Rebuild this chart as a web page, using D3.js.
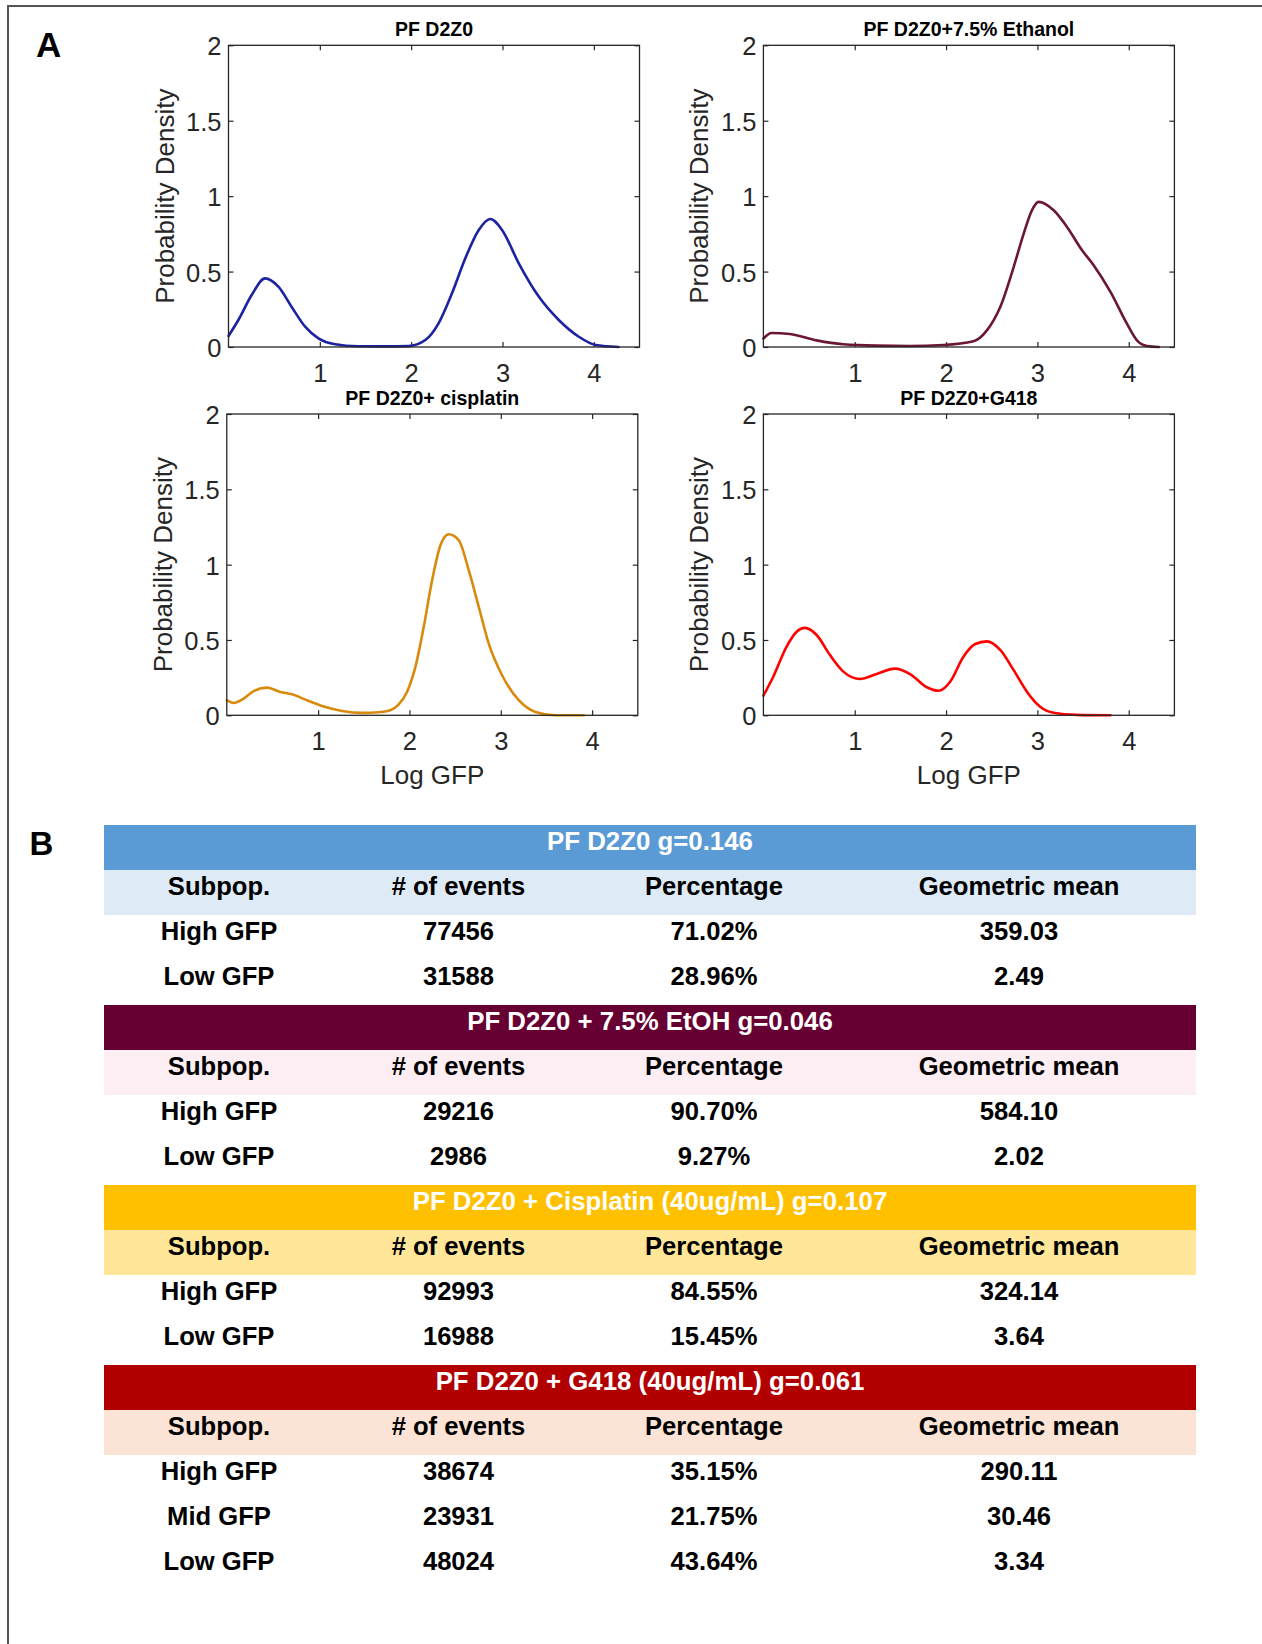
<!DOCTYPE html>
<html>
<head>
<meta charset="utf-8">
<script src="https://cdn.jsdelivr.net/npm/d3@7"></script>
<style>
  html, body { margin: 0; padding: 0; background: #fff; }
  svg { display: block; }
</style>
</head>
<body>
<script>
// ---------- Panel A: kernel density curves of log GFP ----------
const panelTitles = ["PF D2Z0", "PF D2Z0+7.5% Ethanol", "PF D2Z0+ cisplatin", "PF D2Z0+G418"];
const curveColors = ["#1c22a0", "#6b1732", "#d98a0c", "#ff0000"];
const xTickValues = [1, 2, 3, 4];
const yTickValues = [0, 0.5, 1, 1.5, 2];
const yTickLabels = ["0", "0.5", "1", "1.5", "2"];
const xAxisLabel = "Log GFP";
const yAxisLabel = "Probability Density";

const logGfpD2Z0 = [0, 0.108, 0.254, 0.40, 0.546, 0.69, 0.839, 0.985, 1.168, 1.42, 1.7, 1.97, 2.155, 2.30, 2.447, 2.593, 2.74, 2.867, 2.995, 3.178, 3.397, 3.616, 3.836, 4.02, 4.27];
const densityD2Z0 = [0.073, 0.179, 0.345, 0.455, 0.40, 0.267, 0.135, 0.057, 0.018, 0.005, 0.004, 0.006, 0.046, 0.157, 0.356, 0.588, 0.776, 0.849, 0.776, 0.555, 0.334, 0.179, 0.068, 0.013, 0.0];

const logGfpEthanol = [0, 0.09, 0.29, 0.583, 0.875, 1.24, 1.6, 1.97, 2.30, 2.447, 2.593, 2.74, 2.85, 2.94, 3.013, 3.178, 3.324, 3.489, 3.616, 3.80, 3.98, 4.09, 4.2, 4.33];
const densityEthanol = [0.056, 0.093, 0.086, 0.044, 0.018, 0.009, 0.007, 0.013, 0.038, 0.11, 0.265, 0.53, 0.752, 0.906, 0.962, 0.906, 0.796, 0.641, 0.542, 0.365, 0.155, 0.044, 0.007, 0.0];

const logGfpCisplatin = [0, 0.075, 0.166, 0.294, 0.44, 0.586, 0.714, 0.897, 1.08, 1.262, 1.48, 1.663, 1.79, 1.88, 1.973, 2.065, 2.156, 2.248, 2.339, 2.43, 2.54, 2.649, 2.759, 2.868, 3.014, 3.197, 3.379, 3.598, 3.91];
const densityCisplatin = [0.10, 0.082, 0.104, 0.161, 0.184, 0.155, 0.139, 0.095, 0.055, 0.029, 0.016, 0.02, 0.033, 0.071, 0.155, 0.321, 0.586, 0.896, 1.129, 1.202, 1.162, 0.963, 0.719, 0.476, 0.266, 0.10, 0.022, 0.0, 0.0];

const logGfpG418 = [0, 0.108, 0.254, 0.364, 0.455, 0.583, 0.729, 0.875, 1.058, 1.24, 1.442, 1.606, 1.79, 1.917, 2.045, 2.19, 2.319, 2.447, 2.593, 2.74, 2.885, 3.03, 3.178, 3.43, 3.80];
const densityG418 = [0.13, 0.256, 0.456, 0.555, 0.58, 0.533, 0.40, 0.29, 0.241, 0.274, 0.31, 0.274, 0.186, 0.163, 0.223, 0.389, 0.473, 0.491, 0.434, 0.30, 0.157, 0.057, 0.017, 0.003, 0.0];

// ---------- Panel B: subpopulation summary tables ----------
const tableTitles = [
  "PF D2Z0 g=0.146",
  "PF D2Z0 + 7.5% EtOH g=0.046",
  "PF D2Z0 + Cisplatin (40ug/mL) g=0.107",
  "PF D2Z0 + G418 (40ug/mL) g=0.061"
];
const headerLabels = ["Subpop.", "# of events", "Percentage", "Geometric mean"];
const titleFills = ["#5b9bd5", "#660033", "#ffc000", "#b20000"];
const headerFills = ["#deebf7", "#fdeef4", "#ffe699", "#fbe4d5"];

const subpopD2Z0 = ["High GFP", "Low GFP"];
const eventsD2Z0 = ["77456", "31588"];
const percentD2Z0 = ["71.02%", "28.96%"];
const geomeanD2Z0 = ["359.03", "2.49"];

const subpopEthanol = ["High GFP", "Low GFP"];
const eventsEthanol = ["29216", "2986"];
const percentEthanol = ["90.70%", "9.27%"];
const geomeanEthanol = ["584.10", "2.02"];

const subpopCisplatin = ["High GFP", "Low GFP"];
const eventsCisplatin = ["92993", "16988"];
const percentCisplatin = ["84.55%", "15.45%"];
const geomeanCisplatin = ["324.14", "3.64"];

const subpopG418 = ["High GFP", "Mid GFP", "Low GFP"];
const eventsG418 = ["38674", "23931", "48024"];
const percentG418 = ["35.15%", "21.75%", "43.64%"];
const geomeanG418 = ["290.11", "30.46", "3.34"];

// ---------- drawing ----------
const W = 1262, H = 1644;
const svg = d3.select("body").append("svg")
  .attr("width", W).attr("height", H)
  .style("font-family", "'Liberation Sans', Arial, Helvetica, sans-serif");

// figure frame
svg.append("rect")
  .attr("x", 8).attr("y", 6).attr("width", W + 20).attr("height", H + 20)
  .attr("fill", "none").attr("stroke", "#555").attr("stroke-width", 2);

// panel letters
svg.append("text").attr("x", 36).attr("y", 56.5)
  .attr("font-size", 35).attr("font-weight", "bold").text("A");
svg.append("text").attr("x", 29.5).attr("y", 855)
  .attr("font-size", 33).attr("font-weight", "bold").text("B");

const curves = [
  d3.zip(logGfpD2Z0, densityD2Z0),
  d3.zip(logGfpEthanol, densityEthanol),
  d3.zip(logGfpCisplatin, densityCisplatin),
  d3.zip(logGfpG418, densityG418)
];

const panelBoxes = [
  { x: 228.5, y: 45.3, w: 411, h: 301.7, xlabel: false },
  { x: 763.4, y: 45.3, w: 411, h: 301.7, xlabel: false },
  { x: 226.8, y: 414, w: 411, h: 301.3, xlabel: true },
  { x: 763.4, y: 414, w: 411, h: 301.3, xlabel: true }
];

const axisColor = "#262626";

panelBoxes.forEach((b, i) => {
  const g = svg.append("g").attr("transform", `translate(${b.x},${b.y})`);
  const x = d3.scaleLinear().domain([0, 4.5]).range([0, b.w]);
  const y = d3.scaleLinear().domain([0, 2]).range([b.h, 0]);

  // inward ticks on all four sides
  const bottom = g.append("g").attr("transform", `translate(0,${b.h})`)
    .call(d3.axisBottom(x).tickValues(xTickValues).tickSizeInner(-5).tickSizeOuter(0).tickPadding(16.5).tickFormat(d3.format("d")));
  const top = g.append("g")
    .call(d3.axisTop(x).tickValues(xTickValues).tickSizeInner(-5).tickSizeOuter(0).tickFormat(""));
  const left = g.append("g")
    .call(d3.axisLeft(y).tickValues(yTickValues).tickSizeInner(-5).tickSizeOuter(0).tickPadding(7)
      .tickFormat((d, k) => yTickLabels[k]));
  const right = g.append("g").attr("transform", `translate(${b.w},0)`)
    .call(d3.axisRight(y).tickValues(yTickValues).tickSizeInner(-5).tickSizeOuter(0).tickFormat(""));

  [bottom, top, left, right].forEach(a => {
    a.select(".domain").remove();
    a.selectAll("line").attr("stroke", axisColor).attr("stroke-width", 1.2);
    a.selectAll("text").attr("fill", axisColor).attr("font-size", 25.5)
      .attr("font-family", "'Liberation Sans', Arial, sans-serif");
  });
  left.selectAll("text").attr("dy", "0.37em");

  // data curve
  const line = d3.line().x(d => x(d[0])).y(d => y(d[1])).curve(d3.curveMonotoneX);
  g.append("path").datum(curves[i])
    .attr("d", line).attr("fill", "none")
    .attr("stroke", curveColors[i]).attr("stroke-width", 2.6)
    .attr("stroke-linejoin", "round").attr("stroke-linecap", "round");

  // box
  g.append("rect").attr("width", b.w).attr("height", b.h)
    .attr("fill", "none").attr("stroke", axisColor).attr("stroke-width", 1.3);

  // title
  g.append("text").attr("x", b.w / 2).attr("y", -9)
    .attr("text-anchor", "middle").attr("font-size", 19.5).attr("font-weight", "bold")
    .attr("fill", "#000").text(panelTitles[i]);

  // y label
  g.append("text").attr("transform", `translate(-55,${b.h / 2}) rotate(-90)`)
    .attr("text-anchor", "middle").attr("font-size", 26).attr("fill", axisColor)
    .text(yAxisLabel);

  if (b.xlabel) {
    g.append("text").attr("x", b.w / 2).attr("y", b.h + 69)
      .attr("text-anchor", "middle").attr("font-size", 26).attr("fill", axisColor)
      .text(xAxisLabel);
  }
});

// ---------- tables ----------
const tableRows = [
  d3.zip(subpopD2Z0, eventsD2Z0, percentD2Z0, geomeanD2Z0),
  d3.zip(subpopEthanol, eventsEthanol, percentEthanol, geomeanEthanol),
  d3.zip(subpopCisplatin, eventsCisplatin, percentCisplatin, geomeanCisplatin),
  d3.zip(subpopG418, eventsG418, percentG418, geomeanG418)
];

const tableLeft = 104, tableRight = 1196, tableTop = 825, rowH = 45, textOffset = 25;
const colX = d3.scaleOrdinal().domain(headerLabels).range([219, 458.5, 714, 1019]);

let cursor = tableTop;
tableRows.forEach((rows, bi) => {
  const g = svg.append("g");
  // title band
  g.append("rect").attr("x", tableLeft).attr("y", cursor)
    .attr("width", tableRight - tableLeft).attr("height", rowH).attr("fill", titleFills[bi]);
  g.append("text").attr("x", (tableLeft + tableRight) / 2).attr("y", cursor + textOffset)
    .attr("text-anchor", "middle").attr("font-size", 25.8).attr("font-weight", "bold")
    .attr("fill", "#fff").text(tableTitles[bi]);
  cursor += rowH;

  // header band
  g.append("rect").attr("x", tableLeft).attr("y", cursor)
    .attr("width", tableRight - tableLeft).attr("height", rowH).attr("fill", headerFills[bi]);
  g.selectAll("text.hdr").data(headerLabels).join("text").attr("class", "hdr")
    .attr("x", d => colX(d)).attr("y", cursor + textOffset)
    .attr("text-anchor", "middle").attr("font-size", 25.6).attr("font-weight", "bold")
    .attr("fill", "#000").text(d => d);
  cursor += rowH;

  // data rows
  rows.forEach(r => {
    r.forEach((cell, ci) => {
      g.append("text").attr("x", colX(headerLabels[ci])).attr("y", cursor + textOffset)
        .attr("text-anchor", "middle").attr("font-size", 25.6).attr("font-weight", "bold")
        .attr("fill", "#000").text(cell);
    });
    cursor += rowH;
  });
});
</script>
</body>
</html>
